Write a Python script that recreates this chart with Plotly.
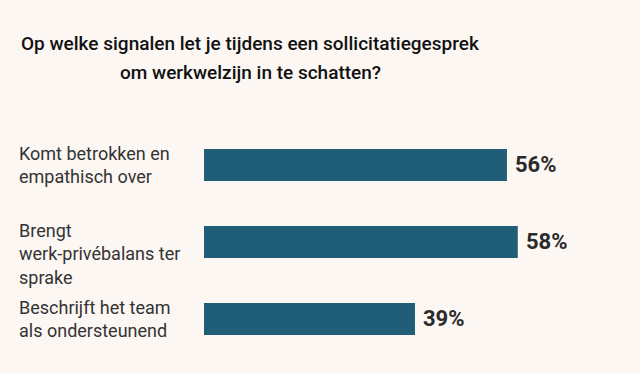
import plotly.graph_objects as go

categories = ["Komt betrokken en<br>empathisch over",
              "Brengt<br>werk-privébalans ter<br>sprake",
              "Beschrijft het team<br>als ondersteunend"]
values = [56, 58, 39]
value_labels = ["56%", "58%", "39%"]
label_shift = [0, -12, 0]
title_lines = ["Op welke signalen let je tijdens een sollicitatiegesprek",
               "om werkwelzijn in te schatten?"]

BG = "#fcf7f3"
BAR = "#205e78"

pos = list(range(len(categories)))

fig = go.Figure(go.Bar(
    x=values, y=pos, orientation="h",
    marker=dict(color=BAR, line=dict(width=0)),
    width=0.4156, hoverinfo="skip",
))

ann = []
for i, (c, v, t, s) in enumerate(zip(categories, values, value_labels, label_shift)):
    ann.append(dict(x=17/640, xref="paper", y=i, yref="y", text=c, showarrow=False,
                    xanchor="left", yanchor="middle", align="left", yshift=s,
                    font=dict(family="Roboto", size=18, color="#333333")))
    ann.append(dict(x=v, xref="x", y=i, yref="y", text=t, showarrow=False,
                    xanchor="left", yanchor="middle", xshift=6, yshift=1,
                    font=dict(family="Roboto", size=22, color="#2b2b2b", weight="bold")))

for k, line in enumerate(title_lines):
    ann.append(dict(x=250/640, xref="paper", y=1 - (44 + 28.5 * k)/373, yref="paper",
                    text=line, showarrow=False, xanchor="center", yanchor="middle",
                    font=dict(family="Roboto", size=19, color="#111111", weight=500)))

fig.update_layout(
    width=640, height=373,
    margin=dict(l=0, r=0, t=0, b=0),
    paper_bgcolor=BG, plot_bgcolor=BG,
    showlegend=False,
    xaxis=dict(domain=[204/640, 1], range=[0, 436/5.41], visible=False, fixedrange=True),
    yaxis=dict(range=[(373-165)/77, -165/77], visible=False, fixedrange=True),
    annotations=ann,
)

fig.write_html("out.html", config={"displayModeBar": False, "staticPlot": True},
               post_script="document.body.style.margin='0';document.body.style.background='%s';" % BG)
